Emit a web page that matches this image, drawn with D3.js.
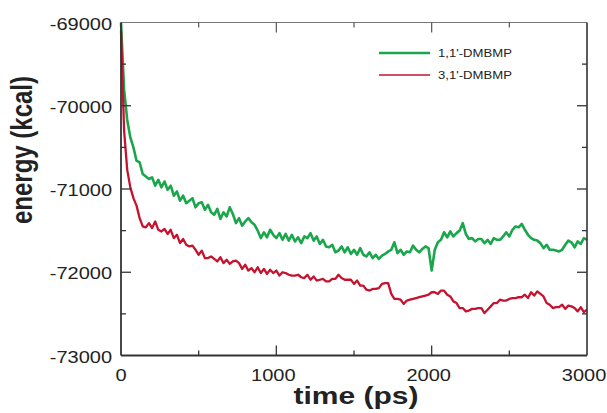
<!DOCTYPE html>
<html>
<head>
<meta charset="utf-8">
<script src="https://cdn.jsdelivr.net/npm/d3@7"></script>
<style>
  body { margin: 0; background: #fff; }
  text { font-family: "Liberation Sans", Arial, Helvetica, sans-serif; fill: #222; }
</style>
</head>
<body>
<div id="chart"></div>
<script>
// sampling grid of the trajectory (ps)
var timePs = d3.range(0, 3001, 20);

// energy, one value every 20 ps
var dmbmp11 = [
  -69000, -69810, -70170, -70380, -70500, -70660, -70680, -70820, -70850, -70880,
  -70860, -70960, -70890, -70980, -70910, -71010, -70960, -71080, -71030, -71140,
  -71080, -71170, -71140, -71110, -71220, -71170, -71160, -71250, -71190, -71280,
  -71310, -71240, -71360, -71280, -71330, -71220, -71300, -71410, -71350, -71440,
  -71390, -71350, -71400, -71430, -71500, -71590, -71520, -71580, -71490, -71550,
  -71590, -71530, -71610, -71540, -71620, -71550, -71630, -71580, -71650, -71570,
  -71590, -71530, -71620, -71570, -71660, -71610, -71690, -71700, -71670, -71760,
  -71740, -71690, -71760, -71700, -71780, -71730, -71790, -71710, -71790, -71810,
  -71760, -71830, -71790, -71840, -71800, -71780, -71750, -71730, -71640, -71770,
  -71730, -71790, -71750, -71760, -71680, -71730, -71760, -71720, -71690, -71710,
  -71980, -71730, -71640, -71610, -71520, -71580, -71510, -71570, -71530, -71500,
  -71410, -71540, -71600, -71590, -71630, -71600, -71600, -71650, -71610, -71660,
  -71590, -71610, -71610, -71570, -71520, -71570, -71490, -71450, -71460, -71420,
  -71490, -71550, -71590, -71610, -71620, -71650, -71710, -71670, -71730, -71730,
  -71740, -71750, -71730, -71670, -71620, -71640, -71700, -71630, -71660, -71590,
  -71610
];

var dmbmp31 = [
  -69100, -70300, -70770, -70980, -71110, -71200, -71350, -71450, -71460, -71410,
  -71470, -71390, -71490, -71510, -71480, -71540, -71490, -71590, -71550, -71650,
  -71600, -71670, -71690, -71680, -71730, -71790, -71740, -71830, -71830, -71810,
  -71840, -71870, -71820, -71890, -71850, -71900, -71870, -71860, -71890, -71960,
  -71910, -71980, -71950, -72000, -71940, -72010, -71960, -72020, -71970, -72010,
  -71980, -72040, -72000, -72010, -72030, -72040, -72040, -72030, -72060, -72070,
  -72030, -72090, -72050, -72100, -72090, -72080, -72110, -72110, -72080, -72080,
  -72030, -72070, -72090, -72090, -72090, -72140, -72100, -72160, -72160, -72210,
  -72220, -72200, -72200, -72190, -72140, -72130, -72130, -72260, -72320, -72320,
  -72330, -72380, -72340, -72330, -72320, -72310, -72300, -72290, -72280, -72270,
  -72240, -72240, -72260, -72220, -72220, -72270, -72290, -72350, -72370, -72430,
  -72430, -72470, -72460, -72440, -72440, -72430, -72430, -72490, -72450, -72410,
  -72370, -72370, -72330, -72340, -72340, -72320, -72310, -72310, -72300, -72300,
  -72270, -72310, -72240, -72280, -72230, -72260, -72290, -72370, -72390, -72430,
  -72420, -72420, -72390, -72440, -72400, -72410, -72430, -72470, -72420, -72480,
  -72450
];

var seriesNames = ["1,1'-DMBMP", "3,1'-DMBMP"];
var seriesColors = ["#1aa64b", "#c4122f"];
var xTicks = [0, 1000, 2000, 3000];
var yTicks = [-73000, -72000, -71000, -70000, -69000];

var W = 607, H = 413;
var margin = { top: 22.5, right: 20, bottom: 57.5, left: 121 };
var stretch = 1.25; // the reference glyphs are a bit wide

var svg = d3.select("#chart").append("svg")
    .attr("width", W)
    .attr("height", H);

var x = d3.scaleLinear().domain([0, 3000]).range([margin.left, W - margin.right]);
var y = d3.scaleLinear().domain([-73000, -69000]).range([H - margin.bottom, margin.top]);

// lines first, frame on top
var line = d3.line()
    .x(function(d, i) { return x(timePs[i]); })
    .y(function(d) { return y(d); });

var series = [dmbmp11, dmbmp31];
var widths = [2.6, 2.3];
series.forEach(function(s, k) {
    svg.append("path")
        .datum(s)
        .attr("d", line)
        .attr("fill", "none")
        .attr("stroke", seriesColors[k])
        .attr("stroke-width", widths[k])
        .attr("stroke-linejoin", "round");
});

// frame
var x0 = x(0), x1 = x(3000), y0 = y(-73000), y1 = y(-69000);
svg.append("line").attr("x1", x0).attr("x2", x1).attr("y1", y1).attr("y2", y1)
    .attr("stroke", "#777").attr("stroke-width", 1);
svg.append("line").attr("x1", x1).attr("x2", x1).attr("y1", y1).attr("y2", y0)
    .attr("stroke", "#333").attr("stroke-width", 1.6);
svg.append("line").attr("x1", x0).attr("x2", x1).attr("y1", y0).attr("y2", y0)
    .attr("stroke", "#333").attr("stroke-width", 1.8);
svg.append("line").attr("x1", x0).attr("x2", x0).attr("y1", y1).attr("y2", y0)
    .attr("stroke", "#333").attr("stroke-width", 1.8);

// inward ticks on all four sides
var xMinor = x.ticks(6).filter(function(v) { return xTicks.indexOf(v) < 0; });
var yMinor = y.ticks(8).filter(function(v) { return yTicks.indexOf(v) < 0; });

function xTick(v, len) {
    svg.append("line").attr("x1", x(v)).attr("x2", x(v)).attr("y1", y0).attr("y2", y0 - len)
        .attr("stroke", "#333").attr("stroke-width", 1.3);
    svg.append("line").attr("x1", x(v)).attr("x2", x(v)).attr("y1", y1).attr("y2", y1 + len)
        .attr("stroke", "#555").attr("stroke-width", 1.2);
}
function yTick(v, len) {
    svg.append("line").attr("x1", x0).attr("x2", x0 + len).attr("y1", y(v)).attr("y2", y(v))
        .attr("stroke", "#333").attr("stroke-width", 1.3);
    svg.append("line").attr("x1", x1).attr("x2", x1 - len).attr("y1", y(v)).attr("y2", y(v))
        .attr("stroke", "#333").attr("stroke-width", 1.3);
}
xTicks.slice(1, -1).forEach(function(v) { xTick(v, 10); });
xMinor.forEach(function(v) { xTick(v, 5); });
yTicks.slice(1, -1).forEach(function(v) { yTick(v, 10); });
yMinor.forEach(function(v) { yTick(v, 5); });

// tick labels
svg.selectAll(".ylab")
    .data(yTicks)
    .enter().append("text")
    .attr("class", "ylab")
    .attr("transform", function(d) { return "translate(" + (x0 - 9) + "," + (y(d) + 7) + ") scale(" + stretch + ",1)"; })
    .attr("text-anchor", "end")
    .style("font-size", "16px")
    .text(function(d) { return String(d); });

svg.selectAll(".xlab")
    .data(xTicks)
    .enter().append("text")
    .attr("class", "xlab")
    .attr("transform", function(d) { return "translate(" + (x(d) - (d ? 3 : 0)) + "," + (y0 + 25) + ") scale(" + stretch + ",1)"; })
    .attr("text-anchor", "middle")
    .style("font-size", "16px")
    .text(function(d) { return String(d); });

// axis titles
svg.append("text")
    .attr("transform", "translate(32,150) scale(" + stretch + ",1) rotate(-90)")
    .attr("text-anchor", "middle")
    .style("font-size", "24px")
    .style("font-weight", "bold")
    .text("energy (kcal)");

svg.append("text")
    .attr("transform", "translate(356,404) scale(" + stretch + ",1)")
    .attr("text-anchor", "middle")
    .style("font-size", "24px")
    .style("font-weight", "bold")
    .text("time (ps)");

// legend
var legendY = [53, 75];
seriesNames.forEach(function(name, k) {
    svg.append("line")
        .attr("x1", 379).attr("x2", 430)
        .attr("y1", legendY[k]).attr("y2", legendY[k])
        .attr("stroke", seriesColors[k])
        .attr("stroke-width", k == 0 ? 2.4 : 1.6);
    svg.append("text")
        .attr("transform", "translate(438," + (legendY[k] + 4) + ") scale(" + stretch + ",1)")
        .style("font-size", "10.5px")
        .text(name);
});
</script>
</body>
</html>
